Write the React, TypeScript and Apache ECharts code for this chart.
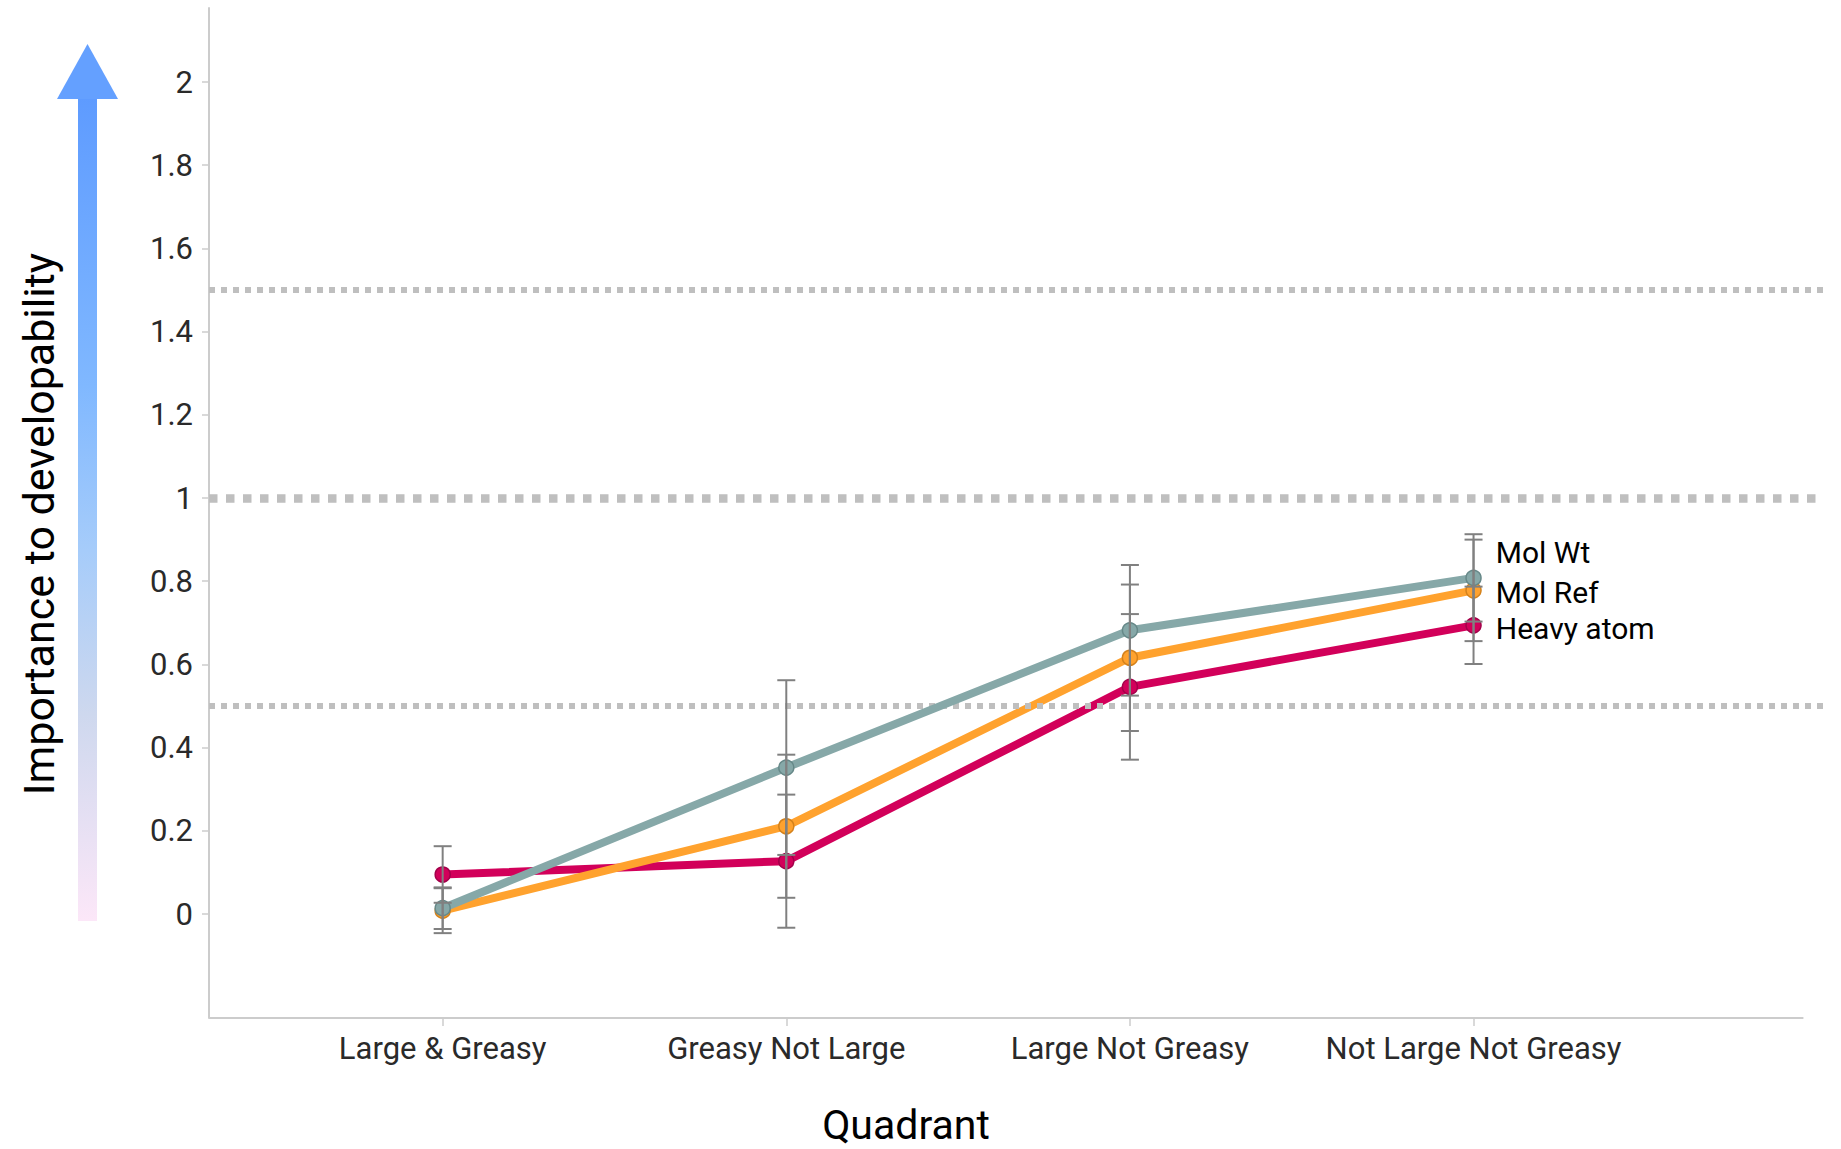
import React, { useEffect, useRef } from 'react';
import * as echarts from 'echarts';

const categories = ['Large & Greasy', 'Greasy Not Large', 'Large Not Greasy', 'Not Large Not Greasy'];

const heavyAtom = [0.095, 0.127, 0.546, 0.694];
const heavyAtomErr = [0.068, 0.16, 0.175, 0.093];
const molRef = [0.008, 0.211, 0.616, 0.778];
const molRefErr = [0.054, 0.172, 0.176, 0.122];
const molWt = [0.014, 0.352, 0.682, 0.808];
const molWtErr = [0.05, 0.21, 0.157, 0.105];

const yTickValues = [0, 0.2, 0.4, 0.6, 0.8, 1, 1.2, 1.4, 1.6, 1.8, 2];
const refLevels = [0.5, 1, 1.5];

const FONT = "'Liberation Sans Narrow', 'Arial Narrow', Roboto, sans-serif";

const X_MIN = -0.68;
const X_MAX = 4.017;
const X_AXIS_END = 3.96;
const Y_MIN = -0.25;
const Y_MAX = 2.178;

export default function App() {
  const ref = useRef<HTMLDivElement>(null);

  useEffect(() => {
    const chart = echarts.init(ref.current as HTMLDivElement, null, { renderer: 'svg' });

    const lineSeries = (
      name: string,
      values: number[],
      color: string,
      border: string,
      z: number,
      labelOffset: number[]
    ) => ({
      type: 'line',
      name,
      z,
      symbol: 'circle',
      symbolSize: 15,
      lineStyle: { color, width: 8 },
      itemStyle: { color, borderColor: border, borderWidth: 1.5 },
      emphasis: { disabled: true },
      data: values.map((v, i) => ({
        value: [i, v],
        label:
          i === values.length - 1
            ? {
                show: true,
                position: 'right',
                distance: 14,
                offset: labelOffset,
                formatter: name,
                color: '#000',
                fontSize: 30,
                fontFamily: FONT,
              }
            : { show: false },
      })),
    });

    const errData: number[][] = [];
    [
      [heavyAtom, heavyAtomErr],
      [molRef, molRefErr],
      [molWt, molWtErr],
    ].forEach(([vals, errs]) => {
      vals.forEach((v, i) => errData.push([i, v - errs[i], v + errs[i]]));
    });

    const option: any = {
      animation: false,
      grid: { left: 209, right: 18, top: 8, bottom: 131, containLabel: false },
      xAxis: {
        type: 'value',
        min: X_MIN,
        max: X_MAX,
        splitLine: { show: false },
        axisLine: { show: false, onZero: false },
        axisTick: {
          show: true,
          customValues: categories.map((_, i) => i),
          length: 8,
          lineStyle: { color: '#CCCCCC', width: 1.5 },
        },
        axisLabel: {
          show: true,
          customValues: categories.map((_, i) => i),
          formatter: (v: number) => categories[Math.round(v)] ?? '',
          color: '#2A2A2A',
          fontSize: 31,
          fontFamily: FONT,
          margin: 15,
        },
      },
      yAxis: {
        type: 'value',
        min: Y_MIN,
        max: Y_MAX,
        splitLine: { show: false },
        axisLine: { show: true, onZero: false, lineStyle: { color: '#CCCCCC', width: 2 } },
        axisTick: {
          show: true,
          customValues: yTickValues,
          length: 7,
          lineStyle: { color: '#CCCCCC', width: 1.5 },
        },
        axisLabel: {
          show: true,
          customValues: yTickValues,
          formatter: (v: number) => String(parseFloat(v.toFixed(1))),
          color: '#2A2A2A',
          fontSize: 31,
          fontFamily: FONT,
          margin: 16,
        },
      },
      series: [
        {
          type: 'line',
          name: 'ref',
          data: [],
          z: 1,
          silent: true,
          markLine: {
            silent: true,
            symbol: ['none', 'none'],
            label: { show: false },
            emphasis: { disabled: true },
            data: [
              ...refLevels.map((lv) => ({
                yAxis: lv,
                lineStyle: { type: 'dotted', width: lv === 1 ? 8.5 : 6, color: '#BFBFBF' },
              })),
              [
                { coord: [X_MIN, Y_MIN], lineStyle: { type: 'solid', width: 2, color: '#CCCCCC' } },
                { coord: [X_AXIS_END, Y_MIN] },
              ],
            ],
          },
        },
        lineSeries('Heavy atom', heavyAtom, '#D2005A', '#A3004A', 3, [0, 3]),
        lineSeries('Mol Ref', molRef, '#FFA22E', '#D4821C', 4, [0, 2]),
        lineSeries('Mol Wt', molWt, '#86A8A8', '#668888', 5, [0, -25]),
        {
          type: 'custom',
          name: 'err',
          z: 10,
          silent: true,
          data: errData,
          encode: { x: 0, y: [1, 2] },
          renderItem: (params: any, api: any) => {
            const x = api.value(0);
            const lo = api.coord([x, api.value(1)]);
            const hi = api.coord([x, api.value(2)]);
            const w = 9;
            const style = { stroke: '#808080', lineWidth: 2 };
            return {
              type: 'group',
              children: [
                { type: 'line', shape: { x1: lo[0], y1: lo[1], x2: hi[0], y2: hi[1] }, style },
                { type: 'line', shape: { x1: hi[0] - w, y1: hi[1], x2: hi[0] + w, y2: hi[1] }, style },
                { type: 'line', shape: { x1: lo[0] - w, y1: lo[1], x2: lo[0] + w, y2: lo[1] }, style },
              ],
            };
          },
        },
      ],
      graphic: [
        {
          type: 'rect',
          shape: { x: 78, y: 98, width: 19, height: 823 },
          style: {
            fill: new echarts.graphic.LinearGradient(0, 0, 0, 1, [
              { offset: 0, color: '#5E9BFF' },
              { offset: 0.35, color: '#80B8FF' },
              { offset: 0.55, color: '#A6CCFA' },
              { offset: 0.75, color: '#CED8EE' },
              { offset: 1, color: '#FCE7F8' },
            ]),
          },
        },
        {
          type: 'polygon',
          shape: { points: [[57, 99], [87.5, 44], [118, 99]] },
          style: { fill: '#64A0FF' },
        },
        {
          type: 'text',
          x: 39,
          y: 524,
          rotation: Math.PI / 2,
          style: {
            text: 'Importance to developability',
            fill: '#000',
            fontSize: 43,
            fontFamily: FONT,
            textAlign: 'center',
            textVerticalAlign: 'middle',
          },
        },
        {
          type: 'text',
          x: 906,
          y: 1125,
          style: {
            text: 'Quadrant',
            fill: '#000',
            fontSize: 41,
            fontFamily: FONT,
            textAlign: 'center',
            textVerticalAlign: 'middle',
          },
        },
      ],
    };

    chart.setOption(option);
    return () => chart.dispose();
  }, []);

  return (
    <div
      ref={ref}
      style={{ position: 'fixed', left: 0, top: 0, width: 1841, height: 1149, background: '#fff' }}
    />
  );
}
